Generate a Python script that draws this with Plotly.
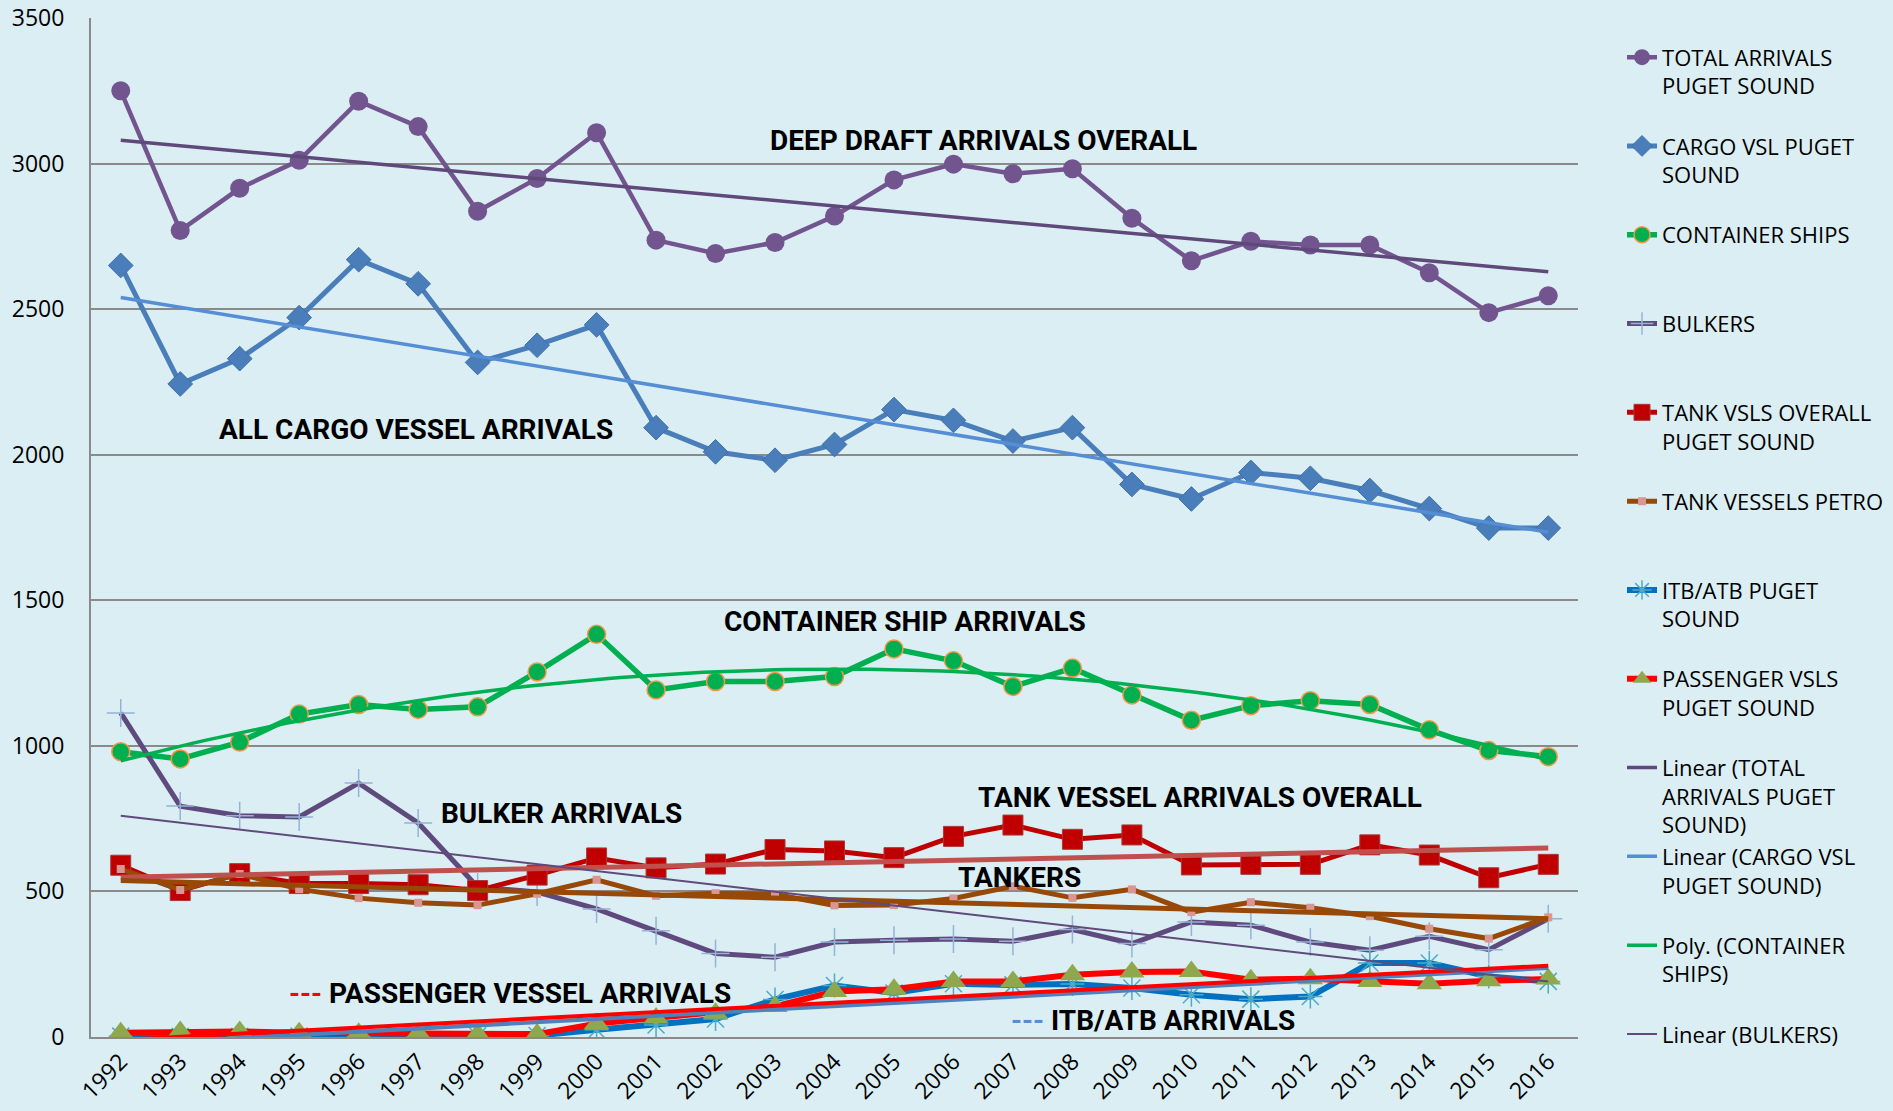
import numpy as np
import plotly.graph_objects as go

# ---------------- data ----------------
years = list(range(1992, 2017))
year_labels = [str(y) for y in years]

total_arrivals = [3250, 2770, 2915, 3011, 3214, 3127, 2836, 2949, 3106, 2737, 2691, 2729, 2820,
                  2944, 2998, 2965, 2982, 2812, 2666, 2733, 2720, 2720, 2625, 2488, 2546]
cargo_vsl = [2650, 2243, 2330, 2471, 2670, 2587, 2317, 2376, 2446, 2093, 2010, 1981, 2035,
             2155, 2118, 2047, 2093, 1898, 1848, 1939, 1919, 1877, 1815, 1748, 1748]
container_ships = [980, 955, 1013, 1109, 1142, 1125, 1134, 1254, 1383, 1192, 1221, 1221, 1238,
                   1333, 1292, 1204, 1267, 1175, 1088, 1138, 1155, 1142, 1055, 984, 963]
bulkers = [1113, 793, 760, 756, 872, 735, 515, 498, 440, 365, 287, 274, 326,
           332, 337, 329, 369, 321, 395, 384, 326, 298, 346, 300, 406]
tank_overall = [590, 503, 561, 527, 527, 523, 503, 556, 615, 581, 594, 644, 639,
                616, 689, 728, 679, 694, 591, 593, 593, 660, 625, 547, 593]
tank_petro = [577, 505, 560, 508, 477, 461, 453, 492, 540, 485, 494, 490, 452,
              453, 476, 518, 478, 507, 429, 463, 444, 415, 372, 338, 411]
itb_atb = [3, 2, 2, 3, 3, 3, 4, 5, 25, 41, 62, 129, 177,
           151, 183, 179, 182, 168, 145, 130, 139, 254, 254, 208, 191]
passenger = [15, 19, 19, 15, 13, 13, 10, 10, 46, 65, 82, 105, 156,
             164, 191, 191, 214, 223, 225, 197, 200, 191, 183, 193, 199]

y_ticks = [0, 500, 1000, 1500, 2000, 2500, 3000, 3500]

# ---------------- styles ----------------
FONT = "Open Sans"
BOLD = "Roboto"
GRID = "#8A8A8A"
BG = "#DAEEF3"

fig = go.Figure()

series = [
    dict(name="TOTAL ARRIVALS<br>PUGET SOUND<br> ", y=total_arrivals, lc="#72558F", lw=4.5,
         marker=dict(symbol="circle", size=19, color="#72558F")),
    dict(name="CARGO VSL PUGET<br>SOUND<br> ", y=cargo_vsl, lc="#4A7EBB", lw=5,
         marker=dict(symbol="diamond", size=19, color="#4A7EBB", line=dict(color="#3F6EA8", width=1))),
    dict(name="CONTAINER SHIPS<br> <br> ", y=container_ships, lc="#00B050", lw=5.5,
         marker=dict(symbol="circle", size=18, color="#00B050", line=dict(color="#F79646", width=1.5))),
    dict(name="BULKERS<br> <br> ", y=bulkers, lc="#5F4A7D", lw=5,
         marker=dict(symbol="cross-thin-open", size=20, color="#95B3D7", line=dict(color="#95B3D7", width=1.5))),
    dict(name="TANK VSLS OVERALL<br>PUGET SOUND<br> ", y=tank_overall, lc="#C00000", lw=5,
         marker=dict(symbol="square", size=20, color="#C00000", line=dict(color="#A83A3A", width=1))),
    dict(name="TANK VESSELS PETRO<br> <br> ", y=tank_petro, lc="#984807", lw=5,
         marker=dict(symbol="square", size=8, color="#D99694")),
    dict(name="ITB/ATB PUGET<br>SOUND<br> ", y=itb_atb, lc="#0070C0", lw=6,
         marker=dict(symbol="asterisk-open", size=20, color="#4BACC6", line=dict(color="#4BACC6", width=1.5))),
    dict(name="PASSENGER VSLS<br>PUGET SOUND<br> ", y=passenger, lc="#FF0000", lw=6,
         marker=dict(symbol="triangle-up", size=22, color="#8FA84E")),
]

for i, s in enumerate(series):
    fig.add_trace(go.Scatter(
        x=years, y=s["y"], name=s["name"], mode="lines+markers",
        line=dict(color=s["lc"], width=s["lw"]), marker=s["marker"],
        legendgroup=f"g{i}", legendrank=i + 1,
    ))

xi = np.array(years, dtype=float)


def linear(vals):
    c = np.polyfit(xi - 1991, np.array(vals, dtype=float), 1)
    xs = np.array([years[0], years[-1]], dtype=float)
    return xs, np.polyval(c, xs - 1991)


def poly2(vals):
    c = np.polyfit(xi - 1991, np.array(vals, dtype=float), 2)
    xs = np.linspace(years[0], years[-1], 121)
    return xs, np.polyval(c, xs - 1991)


# trendlines that are not listed in the (clipped) legend of the original
hidden_trends = [
    (tank_overall, "#C0504D", 5),
    (tank_petro, "#984807", 5),
    (itb_atb, "#4F81BD", 4),
    (passenger, "#FF0000", 4),
]
for vals, col, w in hidden_trends:
    xs, ys = linear(vals)
    fig.add_trace(go.Scatter(x=xs, y=ys, mode="lines", line=dict(color=col, width=w),
                             showlegend=False, hoverinfo="skip"))

legend_trends = [
    ("Linear (TOTAL<br>ARRIVALS PUGET<br>SOUND)", linear(total_arrivals), "#5F497A", 3.5),
    ("Linear (CARGO VSL<br>PUGET SOUND)<br> ", linear(cargo_vsl), "#558ED5", 3.5),
    ("Poly. (CONTAINER<br>SHIPS)<br> ", poly2(container_ships), "#00B050", 3.5),
    ("Linear (BULKERS)", linear(bulkers), "#604A7B", 2),
]
for j, (nm, (xs, ys), col, w) in enumerate(legend_trends):
    fig.add_trace(go.Scatter(x=xs, y=ys, mode="lines", name=nm,
                             line=dict(color=col, width=w), legendgroup=f"t{j}",
                             legendrank=20 + j, hoverinfo="skip"))

annotations = [
    ("DEEP DRAFT ARRIVALS OVERALL", 2006.5, 3078),
    ("ALL CARGO VESSEL ARRIVALS", 1996.97, 2085),
    ("CONTAINER SHIP ARRIVALS", 2005.19, 1427),
    ("BULKER ARRIVALS", 1999.41, 767),
    ("TANK VESSEL ARRIVALS OVERALL", 2010.15, 824),
    ("TANKERS", 2007.11, 547),
    ("<span style='color:#FF0000'>---</span> PASSENGER VESSEL ARRIVALS", 1998.55, 149),
    ("<span style='color:#558ED5'>---</span> ITB/ATB ARRIVALS", 2009.35, 55),
]
for txt, ax_, ay_ in annotations:
    fig.add_annotation(x=ax_, y=ay_, xref="x", yref="y", text=txt, showarrow=False,
                       font=dict(family=BOLD, size=28, color="#000000", weight="bold"))

fig.update_layout(
    template="none",
    width=1893, height=1111,
    margin=dict(l=91, r=315, t=18, b=74, pad=0, autoexpand=False),
    paper_bgcolor=BG, plot_bgcolor=BG,
    font=dict(family=FONT, size=22, color="#000000"),
    showlegend=True,
    legend=dict(
        xref="paper", yref="paper", x=1.0296, y=0.982,
        xanchor="left", yanchor="top", valign="top",
        traceorder="grouped", tracegroupgap=0,
        bgcolor="rgba(0,0,0,0)", borderwidth=0,
        font=dict(family=FONT, size=22, color="#000000"),
    ),
    xaxis=dict(
        range=[1991.5, 2016.5], tickvals=years, ticktext=year_labels, tickangle=-45,
        showgrid=False, zeroline=False, showline=True, linecolor=GRID, linewidth=2,
        ticks="", automargin=False, ticklabelstandoff=0,
        tickfont=dict(family=FONT, size=23, color="#000000"),
    ),
    yaxis=dict(
        range=[0, 3500], tickvals=y_ticks, showgrid=True, gridcolor=GRID, gridwidth=2,
        zeroline=False, showline=True, linecolor=GRID, linewidth=2,
        ticks="", automargin=False, ticklabelstandoff=20,
        tickfont=dict(family=FONT, size=23, color="#000000"),
    ),
)

fig.write_html("out.html", config={"displayModeBar": False},
               post_script="document.body.style.margin='0';document.body.style.overflow='hidden';")
